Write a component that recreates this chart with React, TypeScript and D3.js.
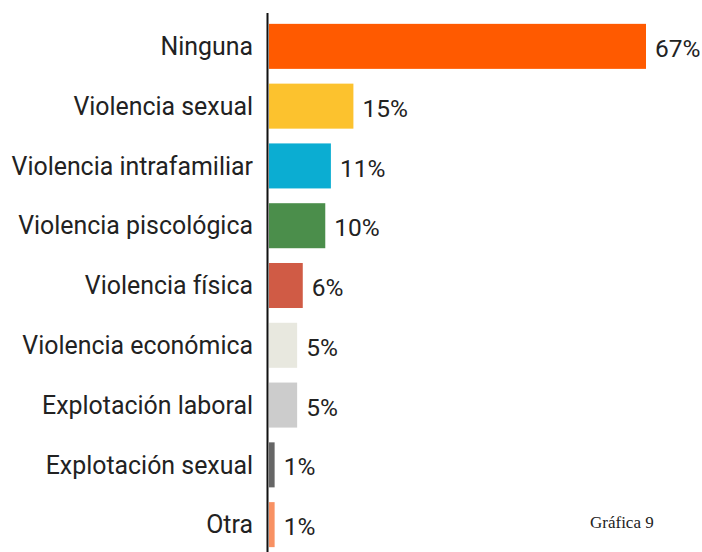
import React from 'react'
import * as d3 from 'd3'

const categories = [
  'Ninguna',
  'Violencia sexual',
  'Violencia intrafamiliar',
  'Violencia piscológica',
  'Violencia física',
  'Violencia económica',
  'Explotación laboral',
  'Explotación sexual',
  'Otra',
]
const values = [67, 15, 11, 10, 6, 5, 5, 1, 1]
const colors = [
  '#ff5a00',
  '#fcc22e',
  '#0badd2',
  '#4b8e4b',
  '#d05b45',
  '#e8e8df',
  '#cccccc',
  '#666666',
  '#f89163',
]

const W = 702
const H = 552
const x0 = 269

export default function App() {
  const x = d3.scaleLinear().domain([0, 67]).range([x0, 646])
  const y = d3.scaleBand<string>()
    .domain(categories)
    .range([16.5, 554.5])
    .paddingInner(0.247)
    .paddingOuter(0.123)

  return (
    <svg
      width={W}
      height={H}
      style={{ position: 'absolute', left: 0, top: 0, background: '#fff' }}
      fontFamily="Roboto, sans-serif"
    >
      {categories.map((c, i) => {
        const yy = y(c)!
        const bw = y.bandwidth()
        return (
          <g key={c}>
            <rect x={x0} y={yy} width={x(values[i]) - x0} height={bw} fill={colors[i]} />
            <text
              x={253}
              y={yy + bw / 2}
              dy="0.35em"
              textAnchor="end"
              fontSize={24.9}
              fill="#222"
            >
              {c}
            </text>
            <text
              x={x(values[i]) + 9}
              y={yy + bw / 2 + 2}
              dy="0.35em"
              fontSize={24.5}
              fill="#222"
            >
              {values[i]}%
            </text>
          </g>
        )
      })}
      {/* eje */}
      <line x1={267.5} x2={267.5} y1={13} y2={H} stroke="#111" strokeWidth={2} />
      <text x={590} y={528} fontFamily="'Liberation Serif', serif" fontSize={17} fill="#222">
        Gráfica 9
      </text>
    </svg>
  )
}
